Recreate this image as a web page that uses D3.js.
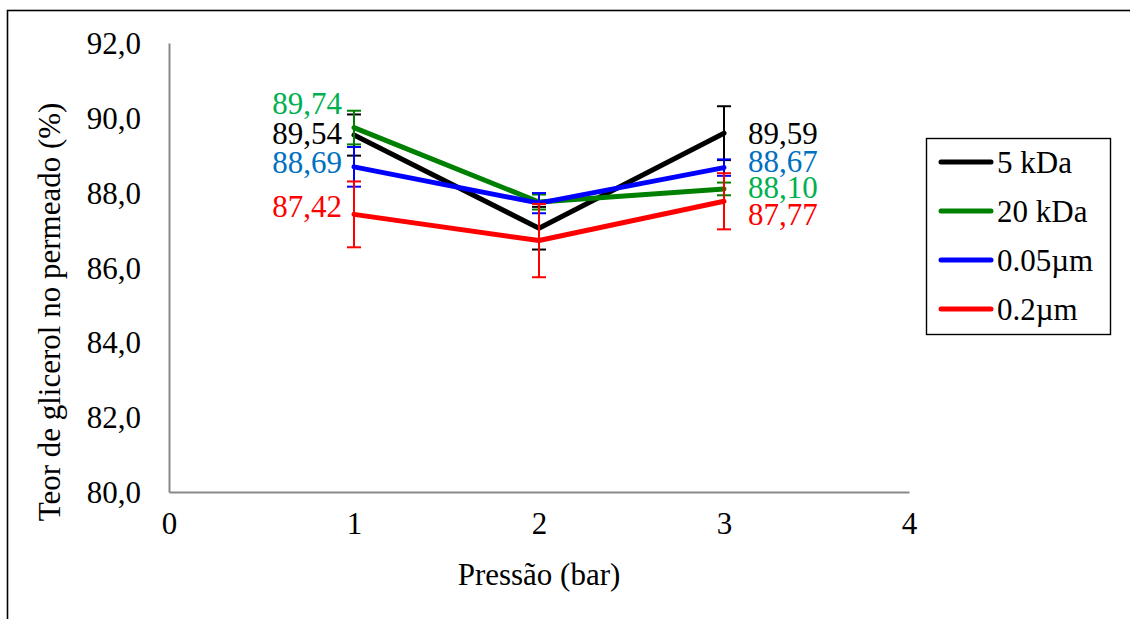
<!DOCTYPE html>
<html>
<head>
<meta charset="utf-8">
<script src="https://cdn.jsdelivr.net/npm/d3@7/dist/d3.min.js"></script>
<style>
  html, body { margin: 0; padding: 0; background: #fff; }
  svg { display: block; }
  text { font-family: "Liberation Serif", "Times New Roman", serif; }
</style>
</head>
<body>
<svg id="chart" width="1130" height="619"></svg>
<script>
// Pressure levels (bar)
const pressures = [1, 2, 3];

// Series names and colours
const seriesNames = ["5 kDa", "20 kDa", "0.05\u00b5m", "0.2\u00b5m"];
const lineColors = ["#000000", "#008000", "#0000ff", "#ff0000"];
const labelColors = ["#000000", "#00b050", "#0070c0", "#ff0000"];

// Glycerol content in permeate (%) per series
const val5kDa   = [89.54, 87.05, 89.59];
const val20kDa  = [89.74, 87.75, 88.10];
const val005um  = [88.69, 87.72, 88.67];
const val02um   = [87.42, 86.72, 87.77];

// Standard deviations
const err5kDa   = [0.55, 0.57, 0.72];
const err20kDa  = [0.45, 0.20, 0.17];
const err005um  = [0.53, 0.27, 0.22];
const err02um   = [0.88, 0.98, 0.75];

// Printed labels (only first and last pressure are labelled)
const lbl5kDa   = ["89,54", null, "89,59"];
const lbl20kDa  = ["89,74", null, "88,10"];
const lbl005um  = ["88,69", null, "88,67"];
const lbl02um   = ["87,42", null, "87,77"];

// Axis ticks
const xTicks = [0, 1, 2, 3, 4];
const yTicks = [80, 82, 84, 86, 88, 90, 92];

const values = [val5kDa, val20kDa, val005um, val02um];
const errors = [err5kDa, err20kDa, err005um, err02um];
const labels = [lbl5kDa, lbl20kDa, lbl005um, lbl02um];

// Vertical nudges (px) for the value labels, left and right ends
const labelNudge = [[-2, 0], [-24, -1], [-4, -6], [-8, 13]];

const svg = d3.select("#chart");
const FS = 31;

// Outer frame
svg.append("rect")
  .attr("x", 7.5).attr("y", 10.5)
  .attr("width", 1140).attr("height", 640)
  .attr("fill", "none").attr("stroke", "#000").attr("stroke-width", 1.6);

const x = d3.scaleLinear().domain([0, 4]).range([169, 909]);
const y = d3.scaleLinear().domain([80, 92]).range([492, 43]);

// Axes
const xAxis = svg.append("g").attr("transform", `translate(0,${y(80)})`)
  .call(d3.axisBottom(x).tickValues(xTicks).tickSize(0).tickPadding(20).tickFormat(d3.format("d")));
const yAxis = svg.append("g").attr("transform", `translate(${x(0)},0)`)
  .call(d3.axisLeft(y).tickValues(yTicks).tickSize(0).tickPadding(28)
    .tickFormat(d => d.toFixed(1).replace(".", ",")));
[xAxis, yAxis].forEach(g => {
  g.select(".domain").attr("stroke", "#898989").attr("stroke-width", 2);
  g.selectAll("text").attr("font-size", FS).attr("fill", "#000")
    .attr("font-family", "Liberation Serif, Times New Roman, serif");
});
xAxis.selectAll("text").attr("dy", "0.71em");
yAxis.selectAll("text").attr("dy", "0.34em");

// Axis titles
svg.append("text")
  .attr("x", 539).attr("y", 585)
  .attr("text-anchor", "middle").attr("font-size", FS)
  .text("Press\u00e3o (bar)");
svg.append("text")
  .attr("transform", `translate(60,${(97 + 527) / 2}) rotate(-90)`)
  .attr("text-anchor", "middle").attr("font-size", FS)
  .text("Teor de glicerol no permeado (%)");

const line = d3.line().x((d, i) => x(pressures[i])).y(d => y(d));

values.forEach((vals, s) => {
  const g = svg.append("g");
  // error bars
  vals.forEach((v, i) => {
    const e = errors[s][i];
    const cx = x(pressures[i]);
    g.append("line").attr("x1", cx).attr("x2", cx)
      .attr("y1", y(v - e)).attr("y2", y(v + e))
      .attr("stroke", lineColors[s]).attr("stroke-width", 2);
    [v - e, v + e].forEach(t => {
      g.append("line").attr("x1", cx - 7).attr("x2", cx + 7)
        .attr("y1", y(t)).attr("y2", y(t))
        .attr("stroke", lineColors[s]).attr("stroke-width", 2);
    });
  });
  // series line
  g.append("path").datum(vals)
    .attr("d", line)
    .attr("fill", "none").attr("stroke", lineColors[s])
    .attr("stroke-width", 5).attr("stroke-linejoin", "round").attr("stroke-linecap", "round");
});

// value labels
values.forEach((vals, s) => {
  vals.forEach((v, i) => {
    const txt = labels[s][i];
    if (!txt) return;
    const left = i === 0;
    svg.append("text")
      .attr("x", left ? x(pressures[i]) - 12 : x(pressures[i]) + 24)
      .attr("y", y(v) + labelNudge[s][left ? 0 : 1])
      .attr("dy", "0.34em")
      .attr("text-anchor", left ? "end" : "start")
      .attr("font-size", FS).attr("fill", labelColors[s])
      .text(txt);
  });
});

// Legend
const leg = svg.append("g");
leg.append("rect").attr("x", 926.5).attr("y", 138.5).attr("width", 184).attr("height", 196)
  .attr("fill", "#fff").attr("stroke", "#000").attr("stroke-width", 1.4);
seriesNames.forEach((name, s) => {
  const ly = 162 + s * 49;
  leg.append("line").attr("x1", 941).attr("x2", 991).attr("y1", ly).attr("y2", ly)
    .attr("stroke", lineColors[s]).attr("stroke-width", 5).attr("stroke-linecap", "round");
  leg.append("text").attr("x", 997).attr("y", ly).attr("dy", "0.34em")
    .attr("font-size", FS).attr("fill", "#000").text(name);
});
</script>
</body>
</html>
